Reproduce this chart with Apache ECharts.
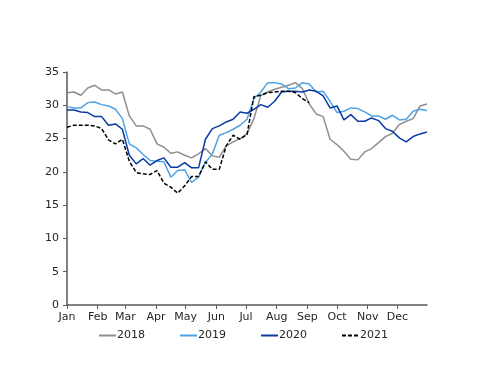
<!DOCTYPE html>
<html><head><meta charset="utf-8">
<script src="https://cdn.jsdelivr.net/npm/echarts@6/dist/echarts.min.js"></script>
<style>html,body{margin:0;padding:0;background:#fff}#c{width:500px;height:386px}</style>
</head><body><div id="c"></div>
<script>
// weekly observations starting 1 Jan, 7-day step
const startDate = '2021-01-01';
const stepDays = 7;
const monthNames = ['Jan','Feb','Mar','Apr','May','Jun','Jul','Aug','Sep','Oct','Nov','Dec'];
const seriesNames = ['2018','2019','2020','2021'];
const y2018 = [31.9,32.0,31.5,32.6,33.0,32.3,32.3,31.7,32.0,28.4,26.9,26.9,26.4,24.2,23.7,22.8,23.0,22.5,22.1,22.7,23.5,22.4,22.2,23.9,24.5,25.0,25.7,28.0,31.5,32.0,32.4,32.7,33.0,33.4,32.5,30.2,28.7,28.3,24.9,24.1,23.1,21.9,21.8,23.0,23.5,24.4,25.3,25.8,27.1,27.6,28.0,29.9,30.2];
const y2019 = [29.8,29.6,29.6,30.4,30.5,30.1,29.9,29.4,28.0,24.2,23.6,22.6,21.7,21.6,21.5,19.2,20.2,20.3,18.4,19.2,21.4,22.7,25.5,25.9,26.4,27.0,27.9,31.0,32.0,33.4,33.4,33.2,32.5,32.6,33.4,33.2,32.0,32.1,30.6,28.9,29.1,29.6,29.5,29.0,28.4,28.4,27.9,28.5,27.8,27.9,29.1,29.4,29.2];
const y2020 = [29.3,29.3,29.0,28.9,28.3,28.3,27.0,27.2,26.4,22.5,21.2,22.0,21.0,21.7,22.1,20.7,20.7,21.4,20.6,20.6,24.9,26.5,26.9,27.5,27.9,29.0,28.8,29.4,30.1,29.7,30.6,32.0,32.1,32.1,32.0,32.3,32.1,31.4,29.6,29.9,27.8,28.6,27.6,27.6,28.1,27.7,26.5,26.1,25.1,24.5,25.3,25.7,26.0];
const y2021 = [26.7,27.0,27.0,27.0,26.9,26.5,24.8,24.2,24.9,21.6,19.9,19.7,19.6,20.2,18.3,17.7,16.8,17.9,19.3,19.3,21.5,20.4,20.4,23.9,25.5,24.9,25.6,31.3,31.5,31.9,32.0,32.1,32.1,31.9,31.0,30.4];
const colors = ['#8e8e8e','#4ea3e4','#0a3aa6','#000000'];

const t0 = Date.UTC(2021,0,1);
function pairs(arr){ return arr.map((v,i)=>[t0 + i*stepDays*86400000, v]); }
const allData = [y2018,y2019,y2020,y2021];

const chart = echarts.init(document.getElementById('c'), null, {renderer:'canvas'});
const font = 'DejaVu Sans';
chart.setOption({
  animation:false,
  useUTC:true,
  textStyle:{fontFamily:font},
  grid:{left:67,right:73,top:72,bottom:81},
  legend:{
    data:seriesNames, left:98, top:330, padding:0, itemWidth:17, itemHeight:2, itemGap:34,
    textStyle:{fontFamily:font,fontSize:11,color:'#262626',padding:[0,0,0,-4]}
  },
  xAxis:{
    type:'time', min:t0, max:Date.UTC(2021,11,31), splitNumber:12,
    minInterval:28*86400000, maxInterval:31*86400000,
    axisLine:{lineStyle:{color:'#595959',width:1.5}},
    axisTick:{show:true,length:4,lineStyle:{color:'#595959'}},
    splitLine:{show:false},
    axisLabel:{showMinLabel:true,showMaxLabel:false,hideOverlap:false,margin:7,fontFamily:font,fontSize:11,color:'#262626',
      formatter:function(v){return monthNames[new Date(v).getUTCMonth()];}}
  },
  yAxis:{
    type:'value', min:0, max:35, interval:5,
    axisLine:{show:true,lineStyle:{color:'#595959',width:1.5}},
    axisTick:{show:true,length:4,lineStyle:{color:'#595959'}},
    splitLine:{show:false},
    axisLabel:{margin:8,fontFamily:font,fontSize:11,color:'#262626'}
  },
  series: seriesNames.map((n,k)=>({
    name:n, type:'line', data:pairs(allData[k]), symbol:'none', showSymbol:false,
    color:colors[k],
    lineStyle:{color:colors[k],width:1.5,type: k===3 ? [4,2] : 'solid'},
    z: k===3?5:(k===2?4:(k===1?3:2))
  }))
});
</script></body></html>
